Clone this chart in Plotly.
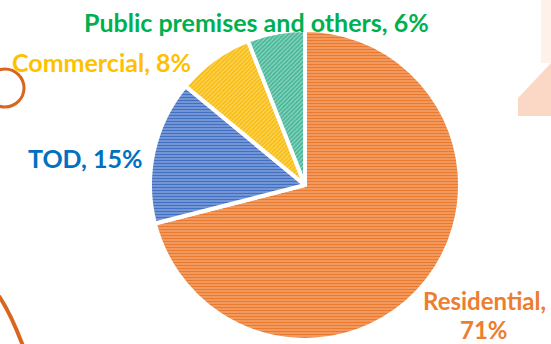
import plotly.graph_objects as go

# Land use shares (%)
categories = ["Residential", "TOD", "Commercial", "Public premises and others"]
shares = [71, 15, 8, 6]

slice_colors = ["#EC7A2C", "#4170C4", "#F9BC10", "#45B898"]
slice_tints = ["#F5AE7E", "#93AEE0", "#FCD866", "#93D6C2"]
hatch_shapes = ["-", "-", "/", "/"]
label_colors = ["#ED7D31", "#0070C0", "#FFC000", "#00B050"]

W, H = 551, 344


def px(x):
    return x / W


def py(y):
    return 1 - y / H


# pie placement: centre and radius in pixels
cx, cy, r = 305, 185, 155

fig = go.Figure(
    go.Pie(
        labels=categories,
        values=shares,
        sort=False,
        direction="clockwise",
        rotation=0,
        textinfo="none",
        hoverinfo="label+percent",
        showlegend=False,
        domain=dict(x=[px(cx - r), px(cx + r)], y=[py(cy + r), py(cy - r)]),
        marker=dict(
            colors=slice_tints,
            line=dict(color="white", width=4),
            pattern=dict(
                shape=hatch_shapes,
                fgcolor=slice_colors,
                bgcolor=slice_tints,
                size=3,
                solidity=0.6,
                fillmode="replace",
            ),
        ),
    )
)

# label anchor points (pixel centres); a second entry holds a wrapped line
label_pos = {
    "Residential": [(484, 300), (484, 329)],
    "TOD": [(85, 158)],
    "Commercial": [(101, 62)],
    "Public premises and others": [(256, 22)],
}


def label_font(col, size=25):
    return dict(family="Lato", size=size, color=col, weight="bold")


annotations = []
for name, val, col in zip(categories, shares, label_colors):
    spots = label_pos[name]
    if len(spots) == 2:
        lines = [f"{name},", f"{val}%"]
        size = 24
    else:
        lines = [f"{name}, {val}%"]
        size = 25
    for (x, y), line in zip(spots, lines):
        annotations.append(
            dict(
                x=px(x), y=py(y), xref="paper", yref="paper",
                text=line, showarrow=False,
                xanchor="center", yanchor="middle", align="center",
                borderpad=0,
                font=label_font(col, size),
            )
        )

# background ornaments
shapes = [
    dict(type="circle", xref="paper", yref="paper", layer="below",
         x0=px(-14), x1=px(24), y0=py(107), y1=py(69),
         line=dict(color="#D9661F", width=3)),
    dict(type="path", xref="paper", yref="paper", layer="below",
         path=f"M {px(-1)},{py(296)} Q {px(11)},{py(314)} {px(23)},{py(346)}",
         line=dict(color="#D9661F", width=4)),
    dict(type="path", xref="paper", yref="paper", layer="below",
         path=(f"M {px(518)},{py(98)} L {px(551)},{py(63)} L {px(551)},{py(116)} "
               f"L {px(518)},{py(116)} Z"),
         fillcolor="#FBD8C6", line=dict(width=0)),
    dict(type="rect", xref="paper", yref="paper", layer="below",
         x0=px(541), x1=px(551), y0=py(63), y1=py(0),
         fillcolor="#FEF1EA", line=dict(width=0)),
]

fig.update_layout(
    width=W, height=H,
    margin=dict(l=0, r=0, t=0, b=0),
    paper_bgcolor="white",
    plot_bgcolor="white",
    annotations=annotations,
    shapes=shapes,
)

fig.write_html("out.html")
